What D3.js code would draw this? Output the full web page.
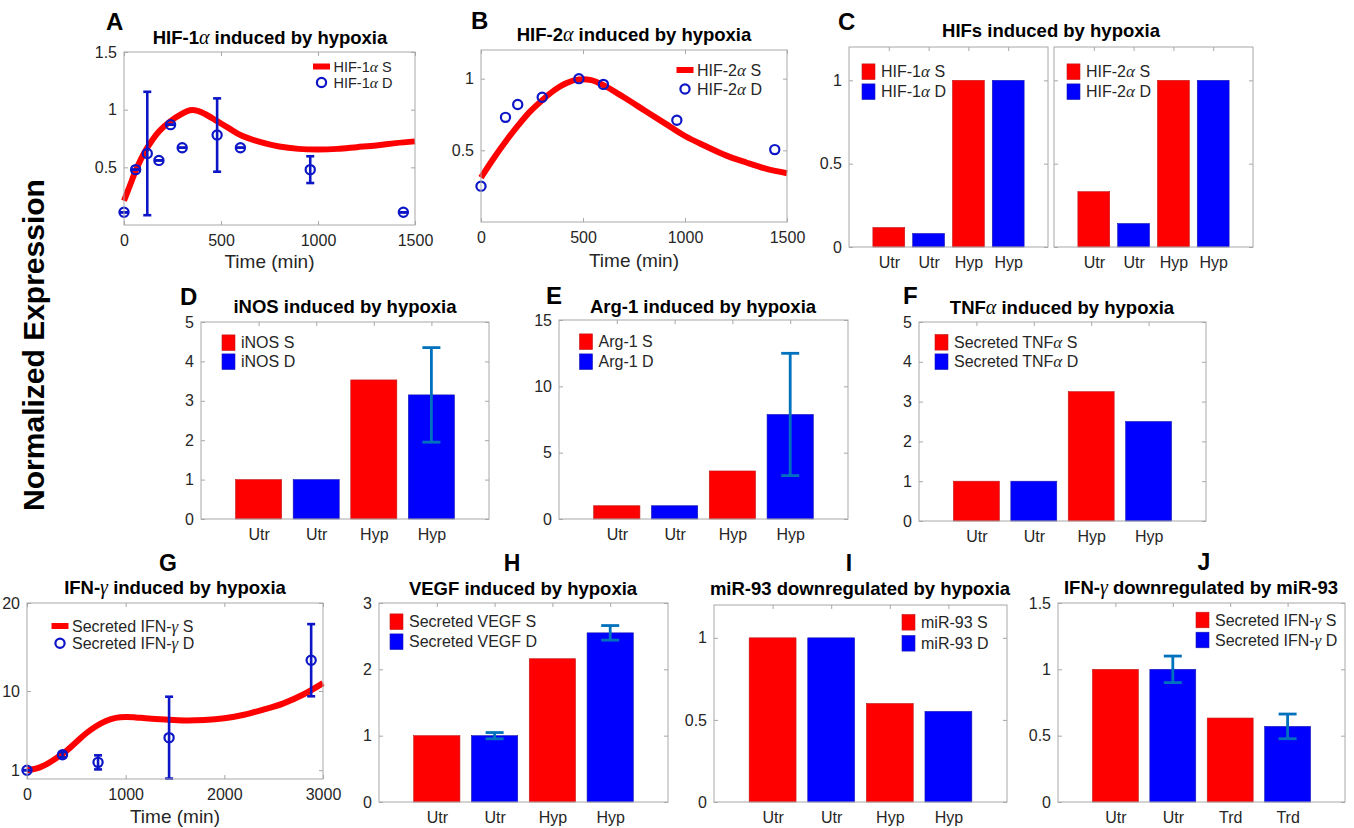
<!DOCTYPE html>
<html>
<head>
<meta charset="utf-8">
<script src="https://cdn.jsdelivr.net/npm/d3@7"></script>
<style>
  body { margin: 0; background: #fff; }
  svg text { font-family: "Liberation Sans", Arial, Helvetica, sans-serif; }
</style>
</head>
<body>
<script>
// ---------------- data ----------------
// A: HIF-1α time course (simulation S, measurements D with error)
const hif1aSimTime = [0, 30, 60, 90, 120, 180, 240, 300, 340, 380, 420, 480, 540, 600, 700, 800, 900, 1000, 1100, 1200, 1300, 1400, 1500];
const hif1aSim     = [0.21, 0.34, 0.47, 0.58, 0.67, 0.81, 0.90, 0.965, 0.995, 0.99, 0.96, 0.90, 0.84, 0.78, 0.72, 0.68, 0.66, 0.655, 0.66, 0.675, 0.69, 0.71, 0.725];
const hif1aTime    = [0, 60, 120, 180, 240, 300, 480, 600, 960, 1440];
const hif1aMeas    = [0.11, 0.48, 0.62, 0.56, 0.87, 0.67, 0.78, 0.67, 0.48, 0.11];
const hif1aErr     = [0, 0, 0.535, 0, 0, 0, 0.318, 0, 0.116, 0];

// B: HIF-2α time course
const hif2aSimTime = [0, 60, 120, 180, 240, 300, 360, 420, 480, 540, 600, 700, 800, 900, 1000, 1100, 1200, 1300, 1400, 1500];
const hif2aSim     = [0.31, 0.44, 0.56, 0.67, 0.77, 0.85, 0.92, 0.97, 0.995, 0.99, 0.955, 0.87, 0.78, 0.69, 0.60, 0.53, 0.465, 0.415, 0.37, 0.34];
const hif2aTime    = [0, 120, 180, 300, 480, 600, 960, 1440];
const hif2aMeas    = [0.25, 0.73, 0.82, 0.87, 1.0, 0.96, 0.71, 0.505];

// G: secreted IFN-γ time course
const ifngSimTime = [0, 100, 200, 300, 400, 500, 600, 700, 800, 900, 1000, 1100, 1200, 1400, 1600, 1800, 2000, 2200, 2400, 2600, 2800, 3000];
const ifngSim     = [1.0, 1.2, 1.7, 2.4, 3.2, 4.2, 5.2, 6.0, 6.6, 6.95, 7.05, 7.0, 6.9, 6.75, 6.65, 6.7, 6.9, 7.3, 7.9, 8.6, 9.6, 10.9];
const ifngTime    = [0, 360, 720, 1440, 2880];
const ifngMeas    = [1.0, 2.76, 1.89, 4.7, 13.5];
const ifngErr     = [0, 0.3, 0.8, 4.65, 4.1];

// bar categories (S = simulation, D = data)
const hypCats = ["Utr", "Utr", "Hyp", "Hyp"];
const trdCats = ["Utr", "Utr", "Trd", "Trd"];
const barSeries = ["S", "D", "S", "D"];

// C: HIFs
const hif1aBars = [0.117, 0.081, 1, 1];
const hif2aBars = [0.332, 0.141, 1, 1];
// D: iNOS
const inosBars = [1, 1, 3.53, 3.15];
const inosErr  = [0, 0, 0, 1.2];
// E: Arg-1
const arg1Bars = [1, 1, 3.62, 7.88];
const arg1Err  = [0, 0, 0, 4.61];
// F: TNFα
const tnfBars = [1, 1, 3.25, 2.50];
// H: VEGF
const vegfBars = [1, 1, 2.16, 2.55];
const vegfErr  = [0, 0.047, 0, 0.11];
// I: miR-93
const mir93Bars = [1, 1, 0.60, 0.552];
// J: IFN-γ vs miR-93
const ifngBars = [1, 1, 0.633, 0.57];
const ifngBarErr = [0, 0.1, 0, 0.093];

// ---------------- drawing ----------------
const AXC = "#a8a8a8", TXT = "#262626", RED = "#ff0000", BLUE = "#0000ff",
      EBC = "#0072bd", MARK = "#0d16c6";
const TICK_FS = 16, LEG_FS = 16;

const svg = d3.select("body").append("svg")
  .attr("width", 1354).attr("height", 828);

// text with Greek letters set in a serif italic face
function rich(sel, str, greekSize) {
  str.split(/([αγ])/).filter(s => s.length).forEach(p => {
    const t = sel.append("tspan").text(p);
    if (p === "α" || p === "γ") {
      t.attr("font-family", "'Liberation Serif', 'DejaVu Serif', serif")
       .attr("font-style", "italic").attr("font-weight", "normal");
      if (greekSize) t.attr("font-size", greekSize);
    }
  });
  return sel;
}

function title(cx, by, str) {
  const t = svg.append("text").attr("x", cx).attr("y", by)
    .attr("text-anchor", "middle").attr("font-size", 18.5)
    .attr("font-weight", "bold").attr("fill", "#000");
  rich(t, str, 20);
}

function letter(x, y, ch, anchor, size) {
  svg.append("text").attr("x", x).attr("y", y).text(ch)
    .attr("text-anchor", anchor || "start")
    .attr("font-family", "'Open Sans', 'DejaVu Sans', sans-serif")
    .attr("font-weight", "bold").attr("font-size", size || 24).attr("fill", "#000");
}

// axes box with inward ticks on all four sides
function axes(o) {
  const x = d3.scaleLinear().domain(o.xDomain).range([o.x0, o.x1]);
  const y = d3.scaleLinear().domain(o.yDomain).range([o.y1, o.y0]);
  const g = svg.append("g");
  const plain = d => String(d);

  const styleAxis = a => {
    a.select(".domain").remove();
    a.selectAll(".tick line").attr("stroke", AXC);
    a.selectAll(".tick text").attr("fill", TXT)
      .attr("font-size", TICK_FS).attr("font-family", "'Liberation Sans', Arial, sans-serif");
  };

  const left = d3.axisLeft(y).tickValues(o.yTicks).tickSizeInner(-4).tickSizeOuter(0)
    .tickPadding(7).tickFormat(o.hideYLabels ? "" : plain);
  g.append("g").attr("transform", `translate(${o.x0},0)`).call(left).call(styleAxis);
  g.append("g").attr("transform", `translate(${o.x1},0)`)
    .call(d3.axisRight(y).tickValues(o.yTicks).tickSizeInner(-4).tickSizeOuter(0).tickFormat(""))
    .call(styleAxis);

  const bottom = d3.axisBottom(x).tickValues(o.xTicks).tickSizeInner(-4).tickSizeOuter(0)
    .tickPadding(10).tickFormat(o.xFormat || plain);
  g.append("g").attr("transform", `translate(0,${o.y1})`).call(bottom).call(styleAxis);
  g.append("g").attr("transform", `translate(0,${o.y0})`)
    .call(d3.axisTop(x).tickValues(o.xTicks).tickSizeInner(-4).tickSizeOuter(0).tickFormat(""))
    .call(styleAxis);

  const plot = svg.append("g");
  // frame drawn last so it sits over the bars
  svg.append("rect").attr("x", o.x0).attr("y", o.y0)
    .attr("width", o.x1 - o.x0).attr("height", o.y1 - o.y0)
    .attr("fill", "none").attr("stroke", AXC).attr("stroke-width", 1);
  return { x, y, plot };
}

function xLabel(cx, by, str) {
  svg.append("text").attr("x", cx).attr("y", by).attr("text-anchor", "middle")
    .attr("font-size", 19).attr("fill", TXT).text(str);
}

// time-course panel: thick simulated curve + measured circles (optionally with error bars)
function timePanel(o) {
  const a = axes(o);
  const line = d3.line().x(d => a.x(d[0])).y(d => a.y(d[1])).curve(d3.curveCatmullRom.alpha(0.5));
  a.plot.append("path").datum(d3.zip(o.simT, o.simV))
    .attr("d", line).attr("fill", "none").attr("stroke", RED)
    .attr("stroke-width", 6).attr("stroke-linecap", "butt");

  const pts = o.t.map((t, i) => ({ t, v: o.v[i], e: o.err ? o.err[i] : null }));
  const eb = a.plot.append("g").attr("stroke", MARK).attr("stroke-width", 2.6);
  pts.filter(p => p.e !== null).forEach(p => {
    const xx = a.x(p.t), yt = a.y(p.v + p.e), yb = a.y(p.v - p.e);
    eb.append("line").attr("x1", xx).attr("x2", xx).attr("y1", yt).attr("y2", yb);
    eb.append("line").attr("x1", xx - 4).attr("x2", xx + 4).attr("y1", yt).attr("y2", yt);
    eb.append("line").attr("x1", xx - 4).attr("x2", xx + 4).attr("y1", yb).attr("y2", yb);
  });
  a.plot.selectAll("circle.pt").data(pts).join("circle")
    .attr("cx", p => a.x(p.t)).attr("cy", p => a.y(p.v)).attr("r", 4.6)
    .attr("fill", "none").attr("stroke", MARK).attr("stroke-width", 2.2);

  // legend: line sample + circle sample
  const L = o.legend, fs = L.fs || LEG_FS;
  svg.append("line").attr("x1", L.x).attr("x2", L.x + 17).attr("y1", L.y1).attr("y2", L.y1)
    .attr("stroke", RED).attr("stroke-width", 6);
  svg.append("circle").attr("cx", L.x + 8.5).attr("cy", L.y2).attr("r", 4.6)
    .attr("fill", "none").attr("stroke", MARK).attr("stroke-width", 2.2);
  [[L.y1, o.names[0]], [L.y2, o.names[1]]].forEach(([yy, s]) => {
    rich(svg.append("text").attr("x", L.x + 20.5).attr("y", yy).attr("dy", "0.35em")
      .attr("font-size", fs).attr("fill", TXT), s, fs + 1);
  });
  xLabel((o.x0 + o.x1) / 2, o.xLabelY, "Time (min)");
}

// grouped bar panel: S bars red, D bars blue, optional error bars on D
function barPanel(o) {
  const a = axes(Object.assign({ xDomain: [0, 5], xTicks: [1, 2, 3, 4],
    xFormat: i => o.cats[i - 1] }, o));
  const unit = a.x(1) - a.x(0);
  const bars = o.values.map((v, i) => ({ i: i + 1, v, s: barSeries[i], e: o.err ? o.err[i] : 0 }));
  a.plot.selectAll("rect").data(bars).join("rect")
    .attr("x", d => a.x(d.i) - 0.4 * unit).attr("width", 0.8 * unit)
    .attr("y", d => a.y(d.v)).attr("height", d => a.y(0) - a.y(d.v))
    .attr("fill", d => d.s === "S" ? RED : BLUE)
    .attr("stroke", d => d.s === "S" ? "#c01818" : "#1818b0").attr("stroke-width", 0.6);

  const eb = a.plot.append("g").attr("stroke", EBC).attr("stroke-width", 2.8);
  bars.filter(d => d.e > 0).forEach(d => {
    const xx = a.x(d.i), yt = a.y(d.v + d.e), yb = a.y(d.v - d.e);
    eb.append("line").attr("x1", xx).attr("x2", xx).attr("y1", yt).attr("y2", yb);
    eb.append("line").attr("x1", xx - 9).attr("x2", xx + 9).attr("y1", yt).attr("y2", yt);
    eb.append("line").attr("x1", xx - 9).attr("x2", xx + 9).attr("y1", yb).attr("y2", yb);
  });

  const L = o.legend;
  [[L.y1, RED, o.names[0]], [L.y2, BLUE, o.names[1]]].forEach(([yy, c, s]) => {
    svg.append("rect").attr("x", L.x).attr("y", yy - 7.8).attr("width", 13).attr("height", 15.6)
      .attr("fill", c).attr("stroke", c === RED ? "#c01818" : "#1818b0").attr("stroke-width", 0.6);
    rich(svg.append("text").attr("x", L.x + 19).attr("y", yy).attr("dy", "0.35em")
      .attr("font-size", LEG_FS).attr("fill", TXT), s, LEG_FS + 1);
  });
}

// ---- row 1 ----
letter(106, 30, "A");
title(270, 44, "HIF-1α induced by hypoxia");
timePanel({ x0: 124, x1: 415, y0: 52, y1: 225, xDomain: [0, 1500], yDomain: [0, 1.5],
  xTicks: [0, 500, 1000, 1500], yTicks: [0.5, 1, 1.5],
  simT: hif1aSimTime, simV: hif1aSim, t: hif1aTime, v: hif1aMeas, err: hif1aErr,
  names: ["HIF-1α S", "HIF-1α D"], legend: { x: 313, y1: 66.5, y2: 82.5, fs: 14.5 }, xLabelY: 268 });

letter(471, 29, "B");
title(634, 41, "HIF-2α induced by hypoxia");
timePanel({ x0: 481, x1: 787, y0: 50, y1: 222, xDomain: [0, 1500], yDomain: [0, 1.2],
  xTicks: [0, 500, 1000, 1500], yTicks: [0.5, 1],
  simT: hif2aSimTime, simV: hif2aSim, t: hif2aTime, v: hif2aMeas, err: null,
  names: ["HIF-2α S", "HIF-2α D"], legend: { x: 676.5, y1: 70, y2: 89 }, xLabelY: 267 });

letter(838, 30, "C");
title(1051, 37, "HIFs induced by hypoxia");
barPanel({ x0: 849, x1: 1048, y0: 47, y1: 247, yDomain: [0, 1.2], yTicks: [0, 0.5, 1],
  cats: hypCats, values: hif1aBars, names: ["HIF-1α S", "HIF-1α D"],
  legend: { x: 862, y1: 71.7, y2: 91.7 } });
barPanel({ x0: 1054, x1: 1253, y0: 47, y1: 247, yDomain: [0, 1.2], yTicks: [0, 0.5, 1],
  hideYLabels: true, cats: hypCats, values: hif2aBars, names: ["HIF-2α S", "HIF-2α D"],
  legend: { x: 1067, y1: 71.7, y2: 91.7 } });

// ---- row 2 ----
letter(180, 305, "D");
title(345, 313, "iNOS induced by hypoxia");
barPanel({ x0: 201, x1: 489, y0: 322, y1: 519, yDomain: [0, 5], yTicks: [0, 1, 2, 3, 4, 5],
  cats: hypCats, values: inosBars, err: inosErr, names: ["iNOS S", "iNOS D"],
  legend: { x: 222, y1: 342.7, y2: 361.7 } });

letter(546, 304, "E");
title(703, 313, "Arg-1 induced by hypoxia");
barPanel({ x0: 559, x1: 848, y0: 320, y1: 519, yDomain: [0, 15], yTicks: [0, 5, 10, 15],
  cats: hypCats, values: arg1Bars, err: arg1Err, names: ["Arg-1 S", "Arg-1 D"],
  legend: { x: 579.5, y1: 341.7, y2: 361.7 } });

letter(903, 304, "F");
title(1062, 314, "TNFα induced by hypoxia");
barPanel({ x0: 919, x1: 1206, y0: 322, y1: 521, yDomain: [0, 5], yTicks: [0, 1, 2, 3, 4, 5],
  cats: hypCats, values: tnfBars, names: ["Secreted TNFα S", "Secreted TNFα D"],
  legend: { x: 935, y1: 342.3, y2: 361.7 } });

// ---- row 3 ----
letter(168, 571, "G", "middle", 23);
title(175, 594, "IFN-γ induced by hypoxia");
timePanel({ x0: 27, x1: 323, y0: 603, y1: 779, xDomain: [0, 3000], yDomain: [0, 20],
  xTicks: [0, 1000, 2000, 3000], yTicks: [1, 10, 20],
  simT: ifngSimTime, simV: ifngSim, t: ifngTime, v: ifngMeas, err: ifngErr,
  names: ["Secreted IFN-γ S", "Secreted IFN-γ D"], legend: { x: 51.5, y1: 626, y2: 643.3 }, xLabelY: 823 });

letter(512, 571, "H", "middle", 23);
title(523, 595, "VEGF induced by hypoxia");
barPanel({ x0: 379, x1: 668, y0: 603, y1: 802, yDomain: [0, 3], yTicks: [0, 1, 2, 3],
  cats: hypCats, values: vegfBars, err: vegfErr, names: ["Secreted VEGF S", "Secreted VEGF D"],
  legend: { x: 390, y1: 621.7, y2: 641.7 } });

letter(849, 571, "I", "middle", 23);
title(860, 595, "miR-93 downregulated by hypoxia");
barPanel({ x0: 714, x1: 1007, y0: 605, y1: 802, yDomain: [0, 1.2], yTicks: [0, 0.5, 1],
  cats: hypCats, values: mir93Bars, names: ["miR-93 S", "miR-93 D"],
  legend: { x: 902, y1: 622.3, y2: 643.3 } });

letter(1204, 570, "J", "middle", 23);
title(1201, 594, "IFN-γ downregulated by miR-93");
barPanel({ x0: 1058, x1: 1345, y0: 603, y1: 802, yDomain: [0, 1.5], yTicks: [0, 0.5, 1, 1.5],
  cats: trdCats, values: ifngBars, err: ifngBarErr, names: ["Secreted IFN-γ S", "Secreted IFN-γ D"],
  legend: { x: 1196, y1: 620, y2: 640 } });

// shared y label
svg.append("text").attr("transform", "translate(44,345) rotate(-90)")
  .attr("text-anchor", "middle").attr("font-family", "'Open Sans', 'DejaVu Sans', sans-serif")
  .attr("font-weight", "bold").attr("font-size", 30).attr("fill", "#000")
  .text("Normalized Expression");
</script>
</body>
</html>
